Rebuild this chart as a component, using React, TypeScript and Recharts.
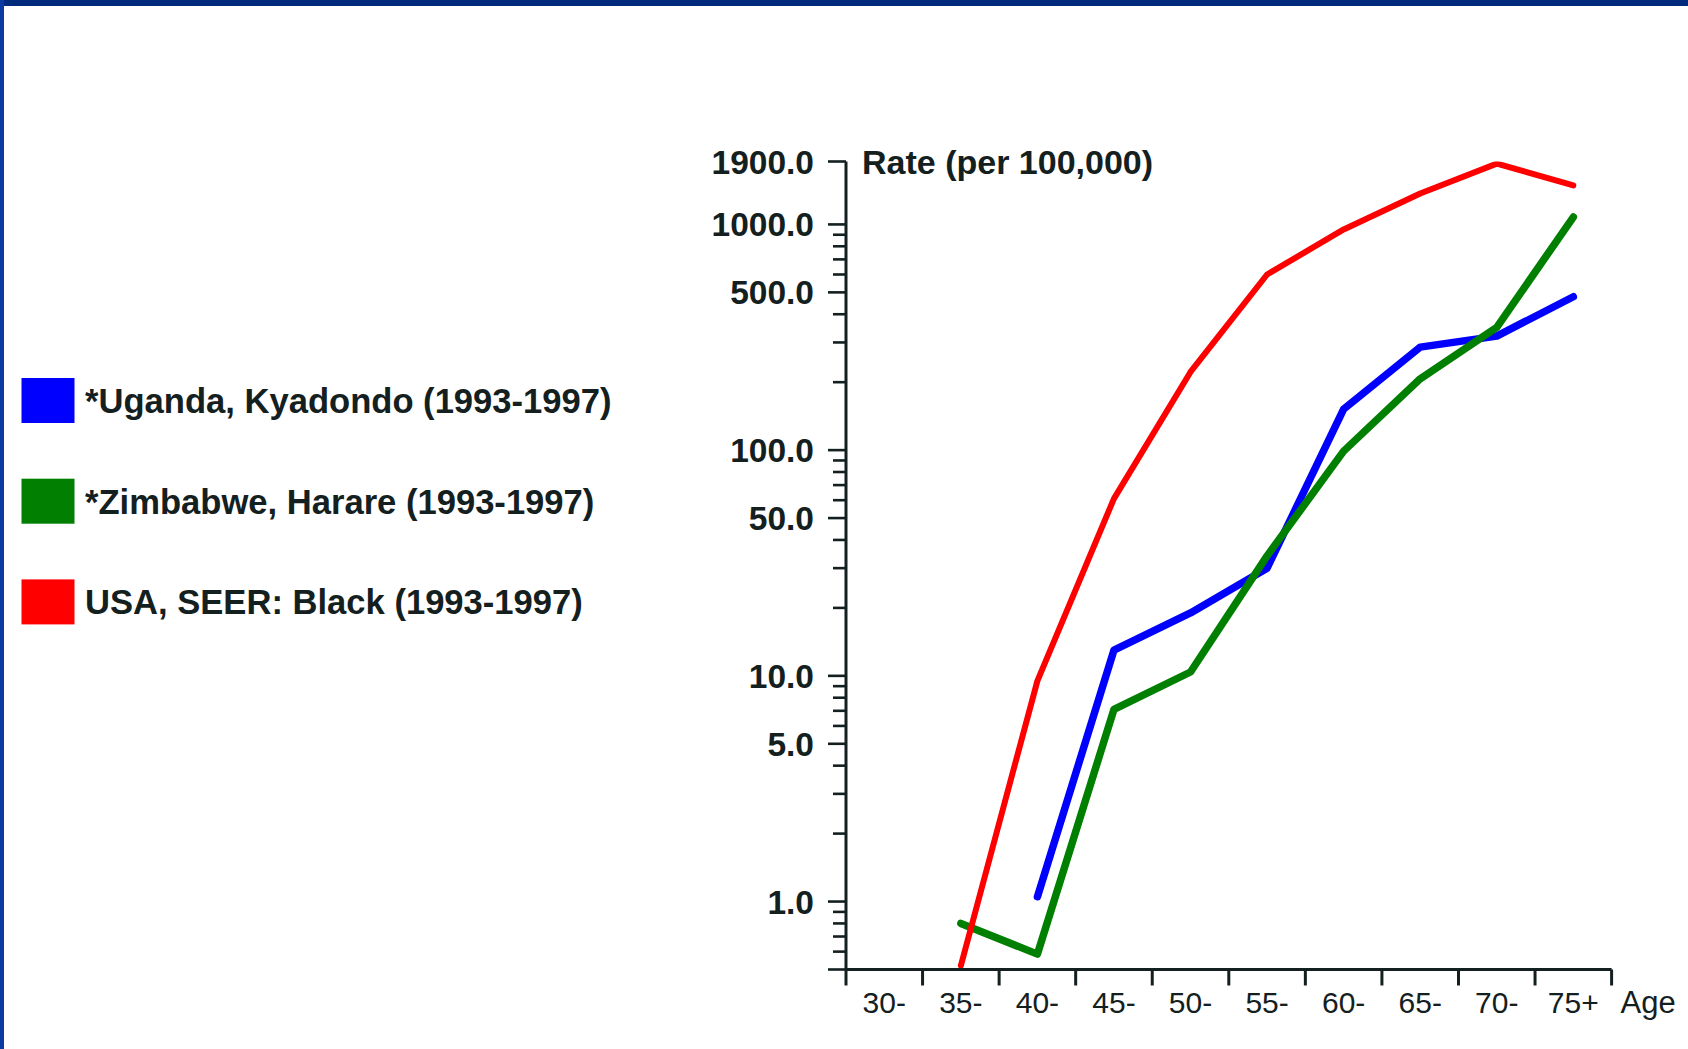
import React from 'react';
import { LineChart, Line, XAxis, YAxis, Legend } from 'recharts';

const ageGroups = ['30-', '35-', '40-', '45-', '50-', '55-', '60-', '65-', '70-', '75+'];
const ugandaKyadondo: (number | null)[] = [null, null, 1.05, 13, 19, 30, 152, 286, 320, 478];
const zimbabweHarare: (number | null)[] = [null, 0.8, 0.585, 7.1, 10.4, 34, 99, 207, 350, 1078];
const usaSeerBlack: (number | null)[] = [null, 0.52, 9.5, 61, 222, 600, 950, 1370, 1860, 1490];

const seriesNames = [
  '*Uganda, Kyadondo (1993-1997)',
  '*Zimbabwe, Harare (1993-1997)',
  'USA, SEER: Black (1993-1997)',
];
const seriesColors = ['#0000ff', '#007f00', '#ff0000'];

const yMin = 0.5;
const yMax = 1900;
const yMajorTicks = [0.5, 1, 5, 10, 50, 100, 500, 1000, 1900];
const yMinorTicks = [0.6, 0.7, 0.8, 0.9, 2, 3, 4, 6, 7, 8, 9, 20, 30, 40, 60, 70, 80, 90, 200, 300, 400, 600, 700, 800, 900];
const yLabelledTicks = [1, 5, 10, 50, 100, 500, 1000, 1900];
const yAxisTitle = 'Rate (per 100,000)';
const xAxisTitle = 'Age';

const tableData = ageGroups.map((age, i) => ({
  x: i + 0.5,
  age,
  uganda: ugandaKyadondo[i],
  zimbabwe: zimbabweHarare[i],
  usa: usaSeerBlack[i],
}));

const xTicks = Array.from({ length: ageGroups.length * 2 + 1 }, (_, i) => i / 2);
const yTicks = [...yMajorTicks, ...yMinorTicks].sort((a, b) => a - b);

const FONT = '"Liberation Sans", Arial, Helvetica, sans-serif';
const INK = '#142020';

const XTick = (props: any) => {
  const { x, y, payload } = props;
  const v = payload.value as number;
  if (Number.isInteger(v)) {
    return (
      <g>
        <line x1={x} y1={y} x2={x} y2={y + 16} stroke={INK} strokeWidth={3} />
        {v === ageGroups.length && (
          <text x={x + 9} y={y + 43} fontFamily={FONT} fontSize={31} fill={INK} textAnchor="start">
            {xAxisTitle}
          </text>
        )}
      </g>
    );
  }
  return (
    <text x={x} y={y + 43} fontFamily={FONT} fontSize={30} fill={INK} textAnchor="middle">
      {ageGroups[Math.floor(v)]}
    </text>
  );
};

const YTick = (props: any) => {
  const { x, y, payload } = props;
  const v = payload.value as number;
  const major = yMajorTicks.includes(v);
  const len = major ? 18 : 13;
  return (
    <g>
      <line x1={x - len} y1={y} x2={x} y2={y} stroke={INK} strokeWidth={2.6} />
      {yLabelledTicks.includes(v) && (
        <text x={x - 32} y={y + 12} fontFamily={FONT} fontSize={33.5} fontWeight="bold" fill={INK} textAnchor="end">
          {v.toFixed(1)}
        </text>
      )}
      {v === yMax && (
        <text x={x + 16} y={y + 12} fontFamily={FONT} fontSize={34} fontWeight="bold" fill={INK} textAnchor="start">
          {yAxisTitle}
        </text>
      )}
    </g>
  );
};

const LegendContent = (props: any) => {
  const payload = props.payload || [];
  return (
    <svg width={640} height={290} style={{ display: 'block' }}>
      {payload.map((p: any, i: number) => {
        const cy = 45.5 + i * 100.7;
        return (
          <g key={i}>
            <rect x={21.5} y={cy - 22.5} width={53} height={45} fill={p.color} />
            <text x={85} y={cy + 12.5} fontFamily={FONT} fontSize={34.6} fontWeight="bold" fill={INK}>
              {p.value}
            </text>
          </g>
        );
      })}
    </svg>
  );
};

export default function App() {
  return (
    <div
      style={{
        position: 'absolute',
        left: 0,
        top: 0,
        width: 1688,
        height: 1049,
        background: '#ffffff',
        overflow: 'hidden',
      }}
    >
      <div style={{ position: 'absolute', left: 0, top: 0, width: 1688, height: 6, background: '#002a7b' }} />
      <div style={{ position: 'absolute', left: 0, top: 0, width: 4, height: 1049, background: '#0a3aa2' }} />
      <div style={{ position: 'absolute', left: 0, top: 0 }}>
        <LineChart
          width={1688}
          height={1049}
          data={tableData}
          margin={{ top: 161.5, right: 76.4, bottom: 19.5, left: 0 }}
        >
          <XAxis
            dataKey="x"
            type="number"
            domain={[0, ageGroups.length]}
            allowDataOverflow
            ticks={xTicks}
            interval={0}
            height={60}
            tickSize={0}
            tickMargin={0}
            tickLine={false}
            axisLine={{ stroke: INK, strokeWidth: 3 }}
            tick={<XTick />}
          />
          <YAxis
            type="number"
            scale="log"
            domain={[yMin, yMax]}
            allowDataOverflow
            ticks={yTicks}
            interval={0}
            width={846}
            tickSize={0}
            tickMargin={0}
            tickLine={false}
            axisLine={{ stroke: INK, strokeWidth: 3 }}
            tick={<YTick />}
          />
          <Legend
            content={<LegendContent />}
            layout="vertical"
            align="center"
            verticalAlign="middle"
            wrapperStyle={{ left: 0, top: 355, width: 640, height: 290 }}
          />
          <Line
            name={seriesNames[0]}
            dataKey="uganda"
            type="linear"
            stroke={seriesColors[0]}
            strokeWidth={7.5}
            strokeLinejoin="round"
            strokeLinecap="round"
            dot={false}
            activeDot={false}
            connectNulls={false}
            isAnimationActive={false}
          />
          <Line
            name={seriesNames[1]}
            dataKey="zimbabwe"
            type="linear"
            stroke={seriesColors[1]}
            strokeWidth={7.5}
            strokeLinejoin="round"
            strokeLinecap="round"
            dot={false}
            activeDot={false}
            connectNulls={false}
            isAnimationActive={false}
          />
          <Line
            name={seriesNames[2]}
            dataKey="usa"
            type="linear"
            stroke={seriesColors[2]}
            strokeWidth={6}
            strokeLinejoin="round"
            strokeLinecap="round"
            dot={false}
            activeDot={false}
            connectNulls={false}
            isAnimationActive={false}
          />
        </LineChart>
      </div>
    </div>
  );
}
